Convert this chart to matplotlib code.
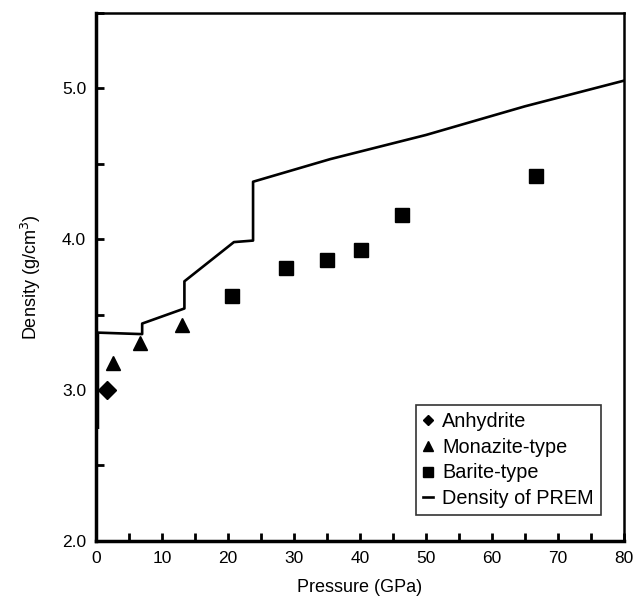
import matplotlib.pyplot as plt
from matplotlib.ticker import MultipleLocator

plt.rcParams['font.family'] = ['Liberation Sans', 'DejaVu Sans']

# PREM density curve
prem_p = [0.3, 0.3, 7.0, 7.0, 13.4, 13.4, 20.9, 23.8, 23.8, 35.5, 50.0, 65.0, 80.0]
prem_rho = [2.75, 3.38, 3.37, 3.44, 3.54, 3.72, 3.98, 3.99, 4.38, 4.53, 4.69, 4.88, 5.05]

# experimental points
anh_p = [1.6]
anh_rho = [3.00]
mon_p = [2.6, 6.6, 13.0]
mon_rho = [3.18, 3.31, 3.43]
bar_p = [20.6, 28.8, 35.0, 40.1, 46.4, 66.6]
bar_rho = [3.62, 3.81, 3.86, 3.93, 4.16, 4.42]

fig = plt.figure(figsize=(6.44, 6.07), dpi=100)
ax = fig.add_axes([0.149, 0.109, 0.820, 0.870])

ax.plot(anh_p, anh_rho, 'kD', ms=9, label='Anhydrite')
ax.plot(mon_p, mon_rho, 'k^', ms=10.5, label='Monazite-type')
ax.plot(bar_p, bar_rho, 'ks', ms=10.5, label='Barite-type')
ax.plot(prem_p, prem_rho, 'k-', lw=1.9, label='Density of PREM')

ax.set_xlim(0, 80)
ax.set_ylim(2.0, 5.5)
ax.set_yticks([2.0, 3.0, 4.0, 5.0])
ax.set_yticklabels(['2.0', '3.0', '4.0', '5.0'])
ax.yaxis.set_minor_locator(MultipleLocator(0.5))
ax.set_xticks(range(0, 81, 10))
ax.xaxis.set_minor_locator(MultipleLocator(5))
ax.tick_params(which='both', direction='in', top=False, right=False,
               labelsize=12.5, width=2, length=6, pad=7)

for s in ['left', 'bottom']:
    ax.spines[s].set_linewidth(2.5)
for s in ['top', 'right']:
    ax.spines[s].set_linewidth(1.8)

ax.set_xlabel('Pressure (GPa)', fontsize=13, labelpad=10)
ax.set_ylabel('Density (g/cm$^3$)', fontsize=13, labelpad=14)

# legend box, bottom right
leg = ax.legend(loc='lower right', bbox_to_anchor=(0.956, 0.049), borderaxespad=0,
                fontsize=14.3, markerscale=0.62, handlelength=0.5, handletextpad=0.45,
                labelspacing=0.33, borderpad=0.35, fancybox=False, frameon=True)
leg.get_frame().set_edgecolor('black')
leg.get_frame().set_linewidth(1.2)

fig.savefig('out.png', dpi=100)
